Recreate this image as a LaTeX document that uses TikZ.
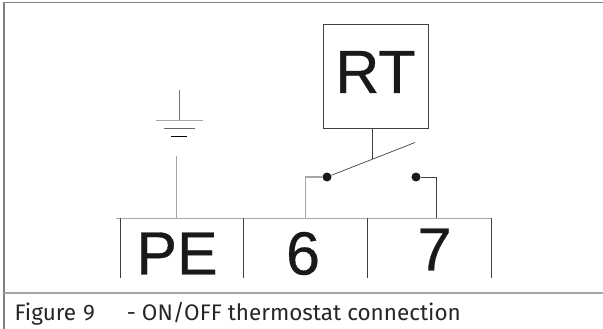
\documentclass[tikz,border=0pt]{standalone}
\usepackage{fontspec}
\setmainfont{Liberation Sans}
\newfontfamily\termfont[FakeBold=0.5]{Liberation Sans}
\newfontfamily\captionfont{Fira Sans}
\usetikzlibrary{positioning}
\tikzset{
  wire/.style={draw=black!75,line width=1pt},
  pale/.style={draw=black!35,line width=1.2pt},
  frameline/.style={draw=black!50,line width=1.6pt},
  term/.style={font=\termfont\fontsize{61}{61}\selectfont,text=black!90,inner sep=0pt},
  contact/.style={circle,fill=black!90,inner sep=0pt,minimum size=9pt}
}
\begin{document}
\begin{tikzpicture}[x=1pt,y=-1pt]
\useasboundingbox (0,0) rectangle (603,329);
% frame
\coordinate (tl) at (4,2.5);
\coordinate (tr) at (603,2.5);
\coordinate (bl) at (4,329);
\coordinate (ml) at (4,293);
\coordinate (mr) at (603,293);
\draw[frameline] (bl) -- (tl) -- (tr);
\draw[frameline,draw=black!35,line width=2pt] (ml) -- (mr);
\node [anchor=base west,inner sep=0pt,font=\captionfont\fontsize{22.5}{23}\selectfont,text=black!85] (cap) at (14.5,320) {Figure\hspace{7pt}9\hspace{32pt}- ON/OFF thermostat connection};
% thermostat
\node [draw=black!75,line width=1pt,minimum width=104.5pt,minimum height=103.5pt,inner sep=0pt] (rt) at (375.75,76.75) {};
\node [term] (rtlabel) at (375.5,72) {RT};
\node [contact] (c1) at (327,177) {};
\node [contact] (c2) at (416,177) {};
\coordinate (levertip) at (415,142.5);
\coordinate (leverfoot) at (372.5,159);
\draw[wire,line width=.7pt] (c1) -- (levertip);
\draw[wire] (rt.south -| leverfoot) -- (leverfoot);
% terminals
\coordinate (t0) at (120,218);
\coordinate (t1) at (243,218);
\coordinate (t2) at (367,218);
\coordinate (t3) at (491,218);
\draw[pale,line width=1pt] (116,218) -- (t3);
\foreach \p in {t0,t1,t2,t3}
  \draw[wire,line width=.7pt] (\p) -- ++(0,60);
\node [term] (pe) at (177,253.5) {PE};
\node [term] (six) at (303,253.5) {6};
\node [term] (seven) at (434.5,249.5) {7};
% wires to terminals
\coordinate (w6) at (305.5,218);
\coordinate (w7) at (436.5,218);
\draw[pale] (c1) -- (c1 -| w6) -- (w6);
\draw[wire] (c2) -- (c2 -| w7) -- (w7);
% earth
\coordinate (pewire) at (176.5,156);
\draw[pale] (pewire) -- (pewire |- t0);
\coordinate (e) at (179,90);
\coordinate (e1) at (179,120.5);
\draw[wire,draw=black!55] (e) -- (e1);
\draw[pale,line width=1.5pt] ([xshift=-23.5pt]e1) -- ([xshift=23.5pt]e1);
\draw[wire,draw=black!60] ([shift={(-15.5,8)}]e1) -- ([shift={(15.5,8)}]e1);
\draw[wire,draw=black] ([shift={(-8,15.5)}]e1) -- ([shift={(8,15.5)}]e1);
\end{tikzpicture}
\end{document}
